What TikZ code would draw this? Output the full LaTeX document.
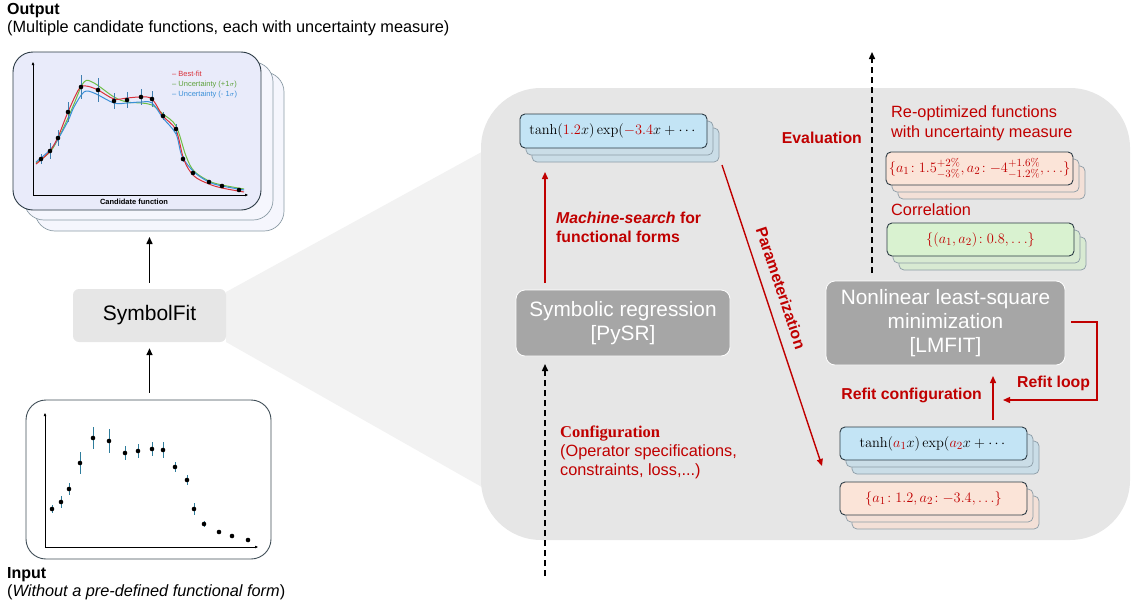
\documentclass[tikz,border=0pt]{standalone}
\usepackage{amsmath}
\usepackage[no-math]{fontspec}
\setmainfont{Liberation Sans}
\newfontfamily\serifface{Liberation Serif}
\usetikzlibrary{arrows.meta}
\definecolor{dred}{HTML}{C00000}
\definecolor{panelgray}{HTML}{E6E6E6}
\definecolor{trapgray}{HTML}{F2F2F2}
\definecolor{boxgray}{HTML}{A6A6A6}
\definecolor{edgedark}{HTML}{2B3A44}
\definecolor{edgelight}{HTML}{8C9CA6}
\definecolor{bluef}{HTML}{C3E4F5}
\definecolor{blueb}{HTML}{CADDE7}
\definecolor{salf}{HTML}{FBE4D8}
\definecolor{salb}{HTML}{F3E0D7}
\definecolor{grnf}{HTML}{D9F2D0}
\definecolor{grnb}{HTML}{D8EAD2}
\definecolor{lavf}{HTML}{E9EBFA}
\definecolor{lavb}{HTML}{F5F6FD}
\definecolor{errblue}{HTML}{3F7FB0}
\definecolor{errteal}{HTML}{2F7D9C}
\definecolor{fitred}{HTML}{D9313A}
\definecolor{fitgreen}{HTML}{6DBE45}
\definecolor{fitblue}{HTML}{3A8FD8}
% name, cx, cy, width, height, front fill, back fill, content
\newcommand\mystack[8]{%
  \node[backbox, fill=#7, minimum width=#4pt, minimum height=#5pt] (#1-b2) at ({#2+12},{#3+14}) {};
  \node[backbox, fill=#7, minimum width=#4pt, minimum height=#5pt] (#1-b1) at ({#2+6},{#3+7}) {};
  \node[frontbox, fill=#6, minimum width=#4pt, minimum height=#5pt] (#1) at (#2,#3) {#8};
}
\begin{document}
\begin{tikzpicture}[x=1pt,y=-1pt,
  lbl/.style={font=\fontsize{16.3}{19}\selectfont, inner sep=0pt},
  redlbl/.style={font=\fontsize{16.3}{19}\selectfont, inner sep=0pt, text=dred},
  redbold/.style={font=\bfseries\fontsize{15.8}{19}\selectfont, inner sep=0pt, text=dred},
  backbox/.style={draw=edgelight, line width=0.7pt, rounded corners=5pt, inner sep=0pt},
  frontbox/.style={draw=edgedark, line width=0.9pt, rounded corners=5pt, inner sep=0pt,
     font=\fontsize{15.5}{18}\selectfont},
  graybox/.style={fill=boxgray, draw=white, line width=0.8pt, rounded corners=9pt,
     text=white, align=center, font=\fontsize{20.8}{25}\selectfont, inner sep=0pt},
  blackarrow/.style={line width=1.5pt, -{Triangle[length=7pt,width=6pt]}},
  redarrow/.style={line width=1.4pt, draw=dred, -{Triangle[length=7pt,width=6pt]}},
  dasharrow/.style={line width=1.5pt, dash pattern=on 6pt off 4pt, -{Triangle[length=7pt,width=6pt]}},
  errbar/.style={line width=1pt},
  dot/.style={fill=black}
]
\useasboundingbox (0,0) rectangle (1131,605);

% ---------- zoom trapezoid and panel ----------
\fill[trapgray] (226,292) -- (540,120) -- (540,520) -- (226,342) -- cycle;
\fill[panelgray, rounded corners=60pt] (481,88) rectangle (1130,540);

% ---------- left column ----------
\node[lbl, anchor=base west, font=\bfseries\fontsize{16}{19}\selectfont] (outt) at (7,14) {Output};
\node[lbl, anchor=base west] (outs) at (7,32) {(Multiple candidate functions, each with uncertainty measure)};

% output stacked boxes
\draw[draw=edgelight, fill=lavb, line width=0.7pt, rounded corners=20pt] (35,72) rectangle (284,231);
\draw[draw=edgelight, fill=lavb, line width=0.7pt, rounded corners=20pt] (24,62) rectangle (273,220);
\node[draw=edgedark, fill=lavf, line width=0.9pt, rounded corners=20pt, minimum width=248pt,
      minimum height=158pt, inner sep=0pt] (outbox) at (137,131) {};
\begin{scope}
  \draw[line width=0.6pt, -{Triangle[length=3pt,width=2.5pt]}] (33,195) -- (33,62);
  \draw[line width=0.6pt, -{Triangle[length=3pt,width=2.5pt]}] (33,195) -- (248,195);
  \draw[fitgreen, line width=1pt] plot[smooth, tension=0.55] coordinates {(36,163) (50,152) (58,139) (68,118) (74,104) (84,82) (94,83) (114,97) (127,102) (141,103) (152,105) (163,114) (176,126) (186,156) (194,171) (209,181) (222,185) (244,189)};
  \draw[fitblue, line width=1pt] plot[smooth, tension=0.55] coordinates {(36,162) (50,150) (58,139) (68,121) (74,107) (84,92) (94,93) (114,103) (127,103) (141,102) (152,103) (163,118) (176,134) (182,156) (194,172) (209,182) (222,186) (244,190)};
  \draw[fitred, line width=1pt] plot[smooth, tension=0.55] coordinates {(36,164) (41,160) (50,151) (58,137) (68,112) (79,89) (86,86) (98,90) (114,99) (127,98) (141,97) (152,99) (163,116) (176,130) (184,160) (194,176) (209,184) (222,188) (244,192)};
  \foreach \x/\y/\e in {41/159/5, 50/151/8, 58/138/8, 68/112/10, 81/87/12, 98/90/12, 114/101/8, 127/100/8, 141/97/8, 152/99/8, 163/116/4, 176/129/5, 183/159/3, 193/173/2, 209/182/2, 222/186/2, 239/190/2}{
    \draw[errblue, errbar] (\x,\y-\e) -- (\x,\y+\e);
    \fill[dot] (\x,\y) circle (2.3pt);
  }
  \node[anchor=base west, inner sep=0pt, text=fitred, font=\fontsize{7.5}{8}\selectfont] (lg1) at (172,76) {-- Best-fit};
  \node[anchor=base west, inner sep=0pt, text=fitgreen!85!black, font=\fontsize{7.5}{8}\selectfont] (lg2) at (172,86) {-- Uncertainty (+1$\sigma$)};
  \node[anchor=base west, inner sep=0pt, text=fitblue, font=\fontsize{7.5}{8}\selectfont] (lg3) at (172,96) {-- Uncertainty (- 1$\sigma$)};
  \node[inner sep=0pt, font=\bfseries\fontsize{7.5}{9}\selectfont] (cand) at (134,202) {Candidate function};
\end{scope}

% SymbolFit
\node[fill=panelgray, rounded corners=6pt, minimum width=153pt, minimum height=53pt, inner sep=0pt,
      font=\fontsize{21}{25}\selectfont] (sf) at (149.5,315.5) {SymbolFit};
\node[draw=edgedark!90, line width=0.9pt, rounded corners=20pt, minimum width=245pt, minimum height=159pt,
      inner sep=0pt, fill=white] (inbox) at (148.5,479.5) {};
\coordinate (a1e) at (149.5,237);
\draw[blackarrow] ([yshift=6pt]sf.north) -- (a1e);
\draw[blackarrow] ([yshift=7pt]inbox.north -| sf.south) -- ([yshift=-6pt]sf.south);

% input plot
\begin{scope}
  \draw[line width=0.6pt, -{Triangle[length=3pt,width=2.5pt]}] (45,547) -- (45,413);
  \draw[line width=0.6pt, -{Triangle[length=3pt,width=2.5pt]}] (45,547) -- (258,547);
  \foreach \x/\y/\e in {52/509/4, 61/502/6, 69/489/6, 80/463/11, 93/438/11, 109/441/12, 125/453/7, 138/451/7, 152/449/7, 163/450/8, 175/467/5, 187/480/5, 194/509/6, 204/524/3, 219/532/2, 232/536/2, 248/540/2}{
    \draw[errteal, errbar] (\x,\y-\e) -- (\x,\y+\e);
    \fill[dot] (\x,\y) circle (2.3pt);
  }
\end{scope}
\node[lbl, anchor=base west, font=\bfseries\fontsize{16}{19}\selectfont] (int) at (7,578) {Input};
\node[lbl, anchor=base west] (ins) at (7,596) {(\textit{Without a pre-defined functional form})};

% ---------- panel content ----------
\mystack{fa}{613.5}{131}{187}{34}{bluef}{blueb}{$\tanh(\textcolor{dred}{1.2}x)\exp(\textcolor{dred}{-3.4}x+\cdots$}
\node[graybox, minimum width=214pt, minimum height=66pt] (sr) at (623,323) {Symbolic regression\\[-1pt][PySR]};
\coordinate (ms1) at (545,283);
\coordinate (ms2) at (545,172);
\draw[redarrow] (ms1) -- (ms2);
\node[redbold, anchor=base west] (msl1) at (556,223) {\textit{Machine-search} for};
\node[redbold, anchor=base west] (msl2) at (556,242) {functional forms};

\coordinate (cf1) at (545,576);
\coordinate (cf2) at (545,364);
\draw[dasharrow] (cf1) -- (cf2);
\node[anchor=base west, inner sep=0pt, text=dred, font=\serifface\bfseries\fontsize{16.5}{19}\selectfont] (cfl) at (560,437) {Configuration};
\node[redlbl, anchor=base west] (cfl2) at (560,456) {(Operator specifications,};
\node[redlbl, anchor=base west] (cfl3) at (560,475) {constraints, loss,...)};

\coordinate (pz1) at (722,165);
\coordinate (pz2) at (822,466);
\draw[redarrow] (pz1) -- (pz2);
\node[redbold, rotate=-71.6] (pzl) at (781,288) {Parameterization};

\coordinate (ev1) at (872,273);
\coordinate (ev2) at (872,52);
\draw[dasharrow] (ev1) -- (ev2);
\node[redbold, anchor=base east] (evl) at (862,143) {Evaluation};
\node[redlbl, anchor=base west] (rol1) at (891,117) {Re-optimized functions};
\node[redlbl, anchor=base west] (rol2) at (891,137) {with uncertainty measure};
\mystack{fu}{979.5}{168.5}{187}{33}{salf}{salb}{\textcolor{dred}{$\{a_1\!:1.5^{+2\%}_{-3\%},a_2\!:-4^{+1.6\%}_{-1.2\%},\ldots\}$}}
\node[redlbl, anchor=base west] (corl) at (891,215) {Correlation};
\mystack{fc}{980.5}{239.5}{187}{33}{grnf}{grnb}{\textcolor{dred}{$\{(a_1,a_2)\!:0.8,\ldots\}$}}

\node[graybox, minimum width=239pt, minimum height=84pt] (nl) at (945.5,323) {Nonlinear least-square\\[-1pt]minimization\\[-1pt][LMFIT]};

\coordinate (rl1) at (1071,322);
\coordinate (rl2) at (1003,400);
\draw[redarrow] (rl1) -- (1097,322) -- (1097,400) -- (rl2);
\node[redbold, anchor=base west] (rll) at (1017,387) {Refit loop};

\coordinate (rc1) at (993,420);
\coordinate (rc2) at (993,376);
\draw[redarrow] (rc1) -- (rc2);
\node[redbold, anchor=base east] (rcl) at (982,399) {Refit configuration};

\mystack{fp}{933.5}{443.5}{187}{33}{bluef}{blueb}{$\tanh(\textcolor{dred}{a_1}x)\exp(\textcolor{dred}{a_2}x+\cdots$}
\mystack{fv}{933.5}{498.5}{187}{33}{salf}{salb}{\textcolor{dred}{$\{a_1\!:1.2,a_2\!:-3.4,\ldots\}$}}
\end{tikzpicture}
\end{document}
